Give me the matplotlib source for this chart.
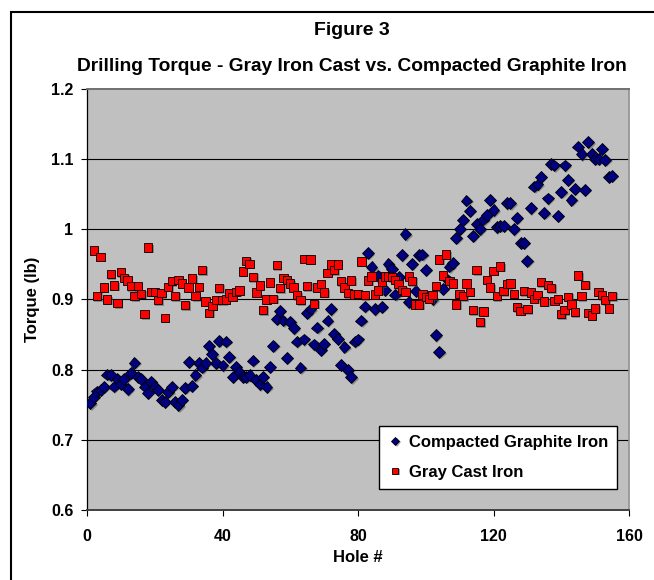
import numpy as np
import matplotlib
matplotlib.use("Agg")
import matplotlib.pyplot as plt
import matplotlib.patheffects as pe
from matplotlib.patches import Rectangle

plt.rcParams['font.family'] = ['Liberation Sans', 'DejaVu Sans']
plt.rcParams['font.weight'] = 'bold'

# ---------------- data ----------------
cgi_torque = [
    0.752, 0.761, 0.769, 0.771, 0.775, 0.793, 0.792, 0.776, 0.787, 0.780,
    0.787, 0.772, 0.795, 0.810, 0.790, 0.787, 0.776, 0.767, 0.783, 0.776,
    0.771, 0.757, 0.754, 0.768, 0.775, 0.754, 0.749, 0.757, 0.774, 0.811,
    0.777, 0.792, 0.809, 0.803, 0.810, 0.834, 0.822, 0.809, 0.841, 0.806,
    0.840, 0.818, 0.790, 0.804, 0.797, 0.790, 0.790, 0.792, 0.813, 0.785,
    0.779, 0.790, 0.775, 0.804, 0.834, 0.872, 0.884, 0.870, 0.817, 0.868,
    0.859, 0.840, 0.803, 0.843, 0.881, 0.886, 0.836, 0.860, 0.828, 0.837,
    0.870, 0.886, 0.851, 0.844, 0.807, 0.832, 0.799, 0.789, 0.840, 0.843,
    0.870, 0.890, 0.966, 0.946, 0.886, 0.934, 0.889, 0.914, 0.951, 0.944,
    0.907, 0.932, 0.963, 0.993, 0.896, 0.951, 0.912, 0.963, 0.964, 0.942,
    0.904, 0.900, 0.849, 0.825, 0.915, 0.930, 0.947, 0.952, 0.988, 1.001,
    1.013, 1.041, 1.026, 0.991, 1.008, 1.000, 1.014, 1.020, 1.042, 1.027,
    1.003, 1.005, 1.005, 1.037, 1.037, 1.000, 1.016, 0.981, 0.981, 0.955,
    1.030, 1.061, 1.064, 1.075, 1.023, 1.044, 1.093, 1.091, 1.019, 1.053,
    1.091, 1.070, 1.042, 1.058, 1.118, 1.107, 1.056, 1.124, 1.107, 1.100,
    1.100, 1.115, 1.099, 1.075, 1.076,
]
gray_torque = [
    0.970, 0.905, 0.961, 0.917, 0.900, 0.936, 0.920, 0.895, 0.939,
    0.931, 0.927, 0.919, 0.905, 0.919, 0.908, 0.879, 0.974, 0.911, 0.911,
    0.899, 0.909, 0.874, 0.918, 0.926, 0.905, 0.928, 0.923, 0.892, 0.917,
    0.930, 0.905, 0.918, 0.942, 0.897, 0.881, 0.891, 0.899, 0.916, 0.899,
    0.900, 0.909, 0.904, 0.911, 0.913, 0.940, 0.955, 0.951, 0.932, 0.910,
    0.920, 0.885, 0.900, 0.924, 0.901, 0.949, 0.916, 0.931, 0.928, 0.923,
    0.917, 0.906, 0.899, 0.958, 0.919, 0.957, 0.894, 0.917, 0.922, 0.910,
    0.938, 0.950, 0.942, 0.950, 0.926, 0.917, 0.909, 0.927, 0.907, 0.908,
    0.954, 0.906, 0.927, 0.933, 0.907, 0.913, 0.925, 0.933, 0.933, 0.932,
    0.928, 0.922, 0.914, 0.911, 0.933, 0.926, 0.893, 0.893, 0.907, 0.904,
    0.901, 0.906, 0.919, 0.957, 0.934, 0.964, 0.926, 0.923, 0.893, 0.908,
    0.905, 0.923, 0.911, 0.885, 0.942, 0.868, 0.883, 0.928, 0.917, 0.941,
    0.905, 0.947, 0.912, 0.922, 0.923, 0.908, 0.889, 0.884, 0.912, 0.886,
    0.910, 0.901, 0.906, 0.925, 0.897, 0.921, 0.916, 0.898, 0.901, 0.879,
    0.885, 0.904, 0.893, 0.882, 0.934, 0.905, 0.921, 0.881, 0.877, 0.887,
    0.911, 0.906, 0.899, 0.887, 0.905,
]
cgi_holes = np.arange(1, len(cgi_torque) + 1)
gray_holes = np.arange(2, len(gray_torque) + 2)

x_ticks = [0, 40, 80, 120, 160]
y_ticks = [0.6, 0.7, 0.8, 0.9, 1.0, 1.1, 1.2]
y_tick_labels = ["0.6", "0.7", "0.8", "0.9", "1", "1.1", "1.2"]

fig_title = "Figure 3"
sub_title = "Drilling Torque - Gray Iron Cast vs. Compacted Graphite Iron"
series_names = ["Compacted Graphite Iron", "Gray Cast Iron"]

# ---------------- figure ----------------
W, H = 654, 580
fig = plt.figure(figsize=(W / 100, H / 100), dpi=100)
fig.patch.set_facecolor('white')

# outer chart border (extends past the right and bottom edges of the image)
fig.patches.append(Rectangle((11 / W, -0.05), (700 - 11) / W, 1.05 - 12 / H,
                             transform=fig.transFigure, fill=False,
                             edgecolor='black', linewidth=1.5))

L, R, T, B = 87, 629, 89, 510
ax = fig.add_axes([L / W, 1 - B / H, (R - L) / W, (B - T) / H])
ax.set_facecolor('#C0C0C0')

shadow = [pe.SimplePatchShadow(offset=(1, -1), shadow_rgbFace='#505050', alpha=0.5), pe.Normal()]

ax.plot(cgi_holes, cgi_torque, linestyle='none', marker='D', ms=6.0,
        markerfacecolor='#000080', markeredgecolor='black', markeredgewidth=0.6,
        label=series_names[0], path_effects=shadow, zorder=3)
ax.plot(gray_holes, gray_torque, linestyle='none', marker='s', ms=6.0,
        markerfacecolor='#FF0000', markeredgecolor='black', markeredgewidth=0.6,
        label=series_names[1], path_effects=shadow, zorder=4)

ax.set_xlim(0, 160)
ax.set_ylim(0.6, 1.2)
ax.set_xticks(x_ticks)
ax.set_xticklabels([str(v) for v in x_ticks])
ax.set_yticks(y_ticks)
ax.set_yticklabels(y_tick_labels)

for y in y_ticks[1:-1]:
    ax.axhline(y, color='black', linewidth=0.8, zorder=1)

ax.tick_params(axis='y', direction='out', length=4.3, width=0.8, pad=5.5,
               labelsize=11.5, colors='black')
ax.tick_params(axis='x', direction='out', length=4, width=0.8, pad=10,
               labelsize=11.5, colors='black')
for lab in ax.get_xticklabels() + ax.get_yticklabels():
    lab.set_fontweight('bold')

ax.spines['left'].set_color('black')
ax.spines['left'].set_linewidth(0.9)
ax.spines['bottom'].set_color('#404040')
ax.spines['bottom'].set_linewidth(1.4)
ax.spines['top'].set_color('#707070')
ax.spines['top'].set_linewidth(1.4)
ax.spines['right'].set_color('#909090')
ax.spines['right'].set_linewidth(1.2)

cx = 352 / W
fig.text(cx, 1 - 35 / H, fig_title, ha='center', va='baseline',
         fontsize=14, fontweight='bold')
fig.text(cx, 1 - 71 / H, sub_title, ha='center', va='baseline',
         fontsize=13.8, fontweight='bold')
fig.text((L + R) / 2 / W, 1 - 558 / H, "Hole #", ha='center', va='center',
         fontsize=12, fontweight='bold')
fig.text(33 / W, 1 - (T + B) / 2 / H, "Torque (lb)", ha='center', va='center',
         rotation=90, fontsize=12, fontweight='bold')

leg = ax.legend(loc='lower right', bbox_to_anchor=((617 - L) / (R - L), (B - 489) / (B - T)),
                borderaxespad=0, fancybox=False, framealpha=1, edgecolor='black',
                prop={'weight': 'bold', 'size': 12}, handlelength=0.8,
                handletextpad=0.4, labelspacing=0.9, borderpad=0.55, markerscale=0.7)
leg.get_frame().set_linewidth(1.0)
leg.set_zorder(10)

fig.savefig("out.png", dpi=100, facecolor='white')
